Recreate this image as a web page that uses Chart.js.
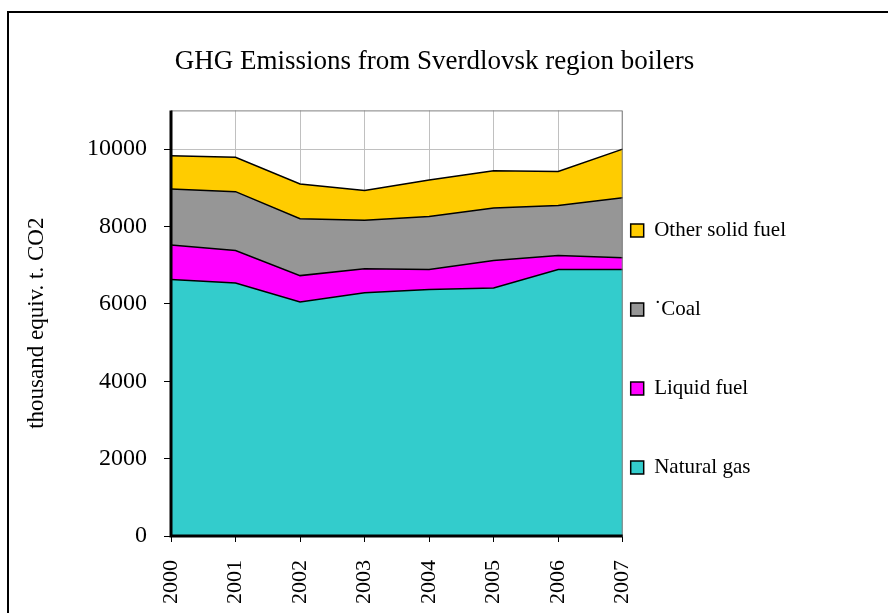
<!DOCTYPE html>
<html>
<head>
<meta charset="utf-8">
<title>GHG Emissions from Sverdlovsk region boilers</title>
<script src="https://cdn.jsdelivr.net/npm/chart.js@4/dist/chart.umd.min.js"></script>
<style>
  html, body { margin: 0; padding: 0; background: #fff; overflow: hidden; }
  #frame { position: absolute; left: 7px; top: 11px; width: 1000px; height: 1000px; border: 2px solid #000; }
  #wrap { position: absolute; left: 0; top: 0; width: 888px; height: 613px; }
</style>
</head>
<body>
<div id="frame"></div>
<div id="wrap"><canvas id="ghgChart"></canvas></div>
<script>
// thousand equiv. t. CO2, stacked from the bottom up
const years = ['2000', '2001', '2002', '2003', '2004', '2005', '2006', '2007'];
const naturalGas = [6630, 6540, 6050, 6290, 6370, 6410, 6890, 6890];
const liquidFuel = [890, 840, 680, 620, 520, 710, 360, 300];
const coal = [1450, 1520, 1470, 1250, 1370, 1360, 1290, 1550];
const otherSolidFuel = [860, 890, 900, 770, 940, 960, 880, 1260];
const yTickValues = [0, 2000, 4000, 6000, 8000, 10000];

const serif = "'Liberation Serif', 'Times New Roman', serif";

Chart.defaults.color = '#000';
Chart.defaults.font.family = serif;

// plot area frame: grey top/right, heavy black axes on the left/bottom
const plotFrame = {
  id: 'plotFrame',
  afterDatasetsDraw: function(chart) {
    const ctx = chart.ctx;
    const a = chart.chartArea;
    ctx.save();
    ctx.strokeStyle = '#808080';
    ctx.lineWidth = 1;
    ctx.beginPath();
    ctx.moveTo(a.left, a.top + 0.5);
    ctx.lineTo(a.right - 0.5, a.top + 0.5);
    ctx.lineTo(a.right - 0.5, a.bottom);
    ctx.stroke();
    ctx.strokeStyle = '#000';
    ctx.lineWidth = 3;
    ctx.beginPath();
    ctx.moveTo(a.left, a.top);
    ctx.lineTo(a.left, a.bottom);
    ctx.lineTo(a.right, a.bottom);
    ctx.stroke();
    ctx.restore();
  }
};

function areaSet(label, data, color, fill) {
  return {
    label: label,
    data: data,
    backgroundColor: color,
    borderColor: '#000',
    borderWidth: 1.5,
    pointRadius: 0,
    tension: 0,
    fill: fill
  };
}

new Chart(document.getElementById('ghgChart'), {
  type: 'line',
  data: {
    labels: years,
    datasets: [
      areaSet('Natural gas', naturalGas, '#33cccc', 'origin'),
      areaSet('Liquid fuel', liquidFuel, '#ff00ff', '-1'),
      areaSet('\u02D9Coal', coal, '#969696', '-1'),
      areaSet('Other solid fuel', otherSolidFuel, '#ffcc00', '-1')
    ]
  },
  options: {
    responsive: true,
    maintainAspectRatio: false,
    animation: false,
    layout: {
      padding: { left: 73, right: 92, top: 0, bottom: 0 }
    },
    plugins: {
      title: {
        display: true,
        text: 'GHG Emissions from Sverdlovsk region boilers',
        font: { size: 27, weight: 'normal' },
        padding: { top: 46, bottom: 32 }
      },
      legend: {
        position: 'right',
        fullSize: false,
        align: 'end',
        reverse: true,
        labels: {
          boxWidth: 13,
          boxHeight: 13,
          padding: 8,
          font: { size: 21, lineHeight: 1.127 },
          // two blank lines under each name keep the entries far apart
          generateLabels: function(chart) {
            const items = Chart.defaults.plugins.legend.labels.generateLabels(chart);
            return items.map(function(item) {
              item.text = [item.text, '', ''];
              return item;
            });
          }
        }
      },
      tooltip: { enabled: false }
    },
    scales: {
      x: {
        offset: false,
        grid: { color: '#c0c0c0', tickColor: '#000', tickLength: 6 },
        border: { display: false },
        ticks: {
          minRotation: 90,
          maxRotation: 90,
          padding: 18,
          font: { size: 22 }
        },
        afterFit: function(scale) { scale.height = 77; }
      },
      y: {
        stacked: true,
        min: 0,
        max: 11000,
        grid: { color: '#c0c0c0', tickColor: '#000', tickLength: 7 },
        border: { display: false },
        ticks: {
          padding: 17,
          font: { size: 24 },
          callback: function(value) { return String(value); }
        },
        afterBuildTicks: function(scale) {
          scale.ticks = yTickValues.map(function(v) { return { value: v }; });
        },
        title: {
          display: true,
          text: 'thousand equiv. t. CO2',
          font: { size: 23 },
          // axis title sits out in the left margin, as in the original
          padding: { top: -50, bottom: 0 }
        },
        afterFit: function(scale) { scale.width = 98; }
      }
    }
  },
  plugins: [plotFrame]
});
</script>
</body>
</html>
